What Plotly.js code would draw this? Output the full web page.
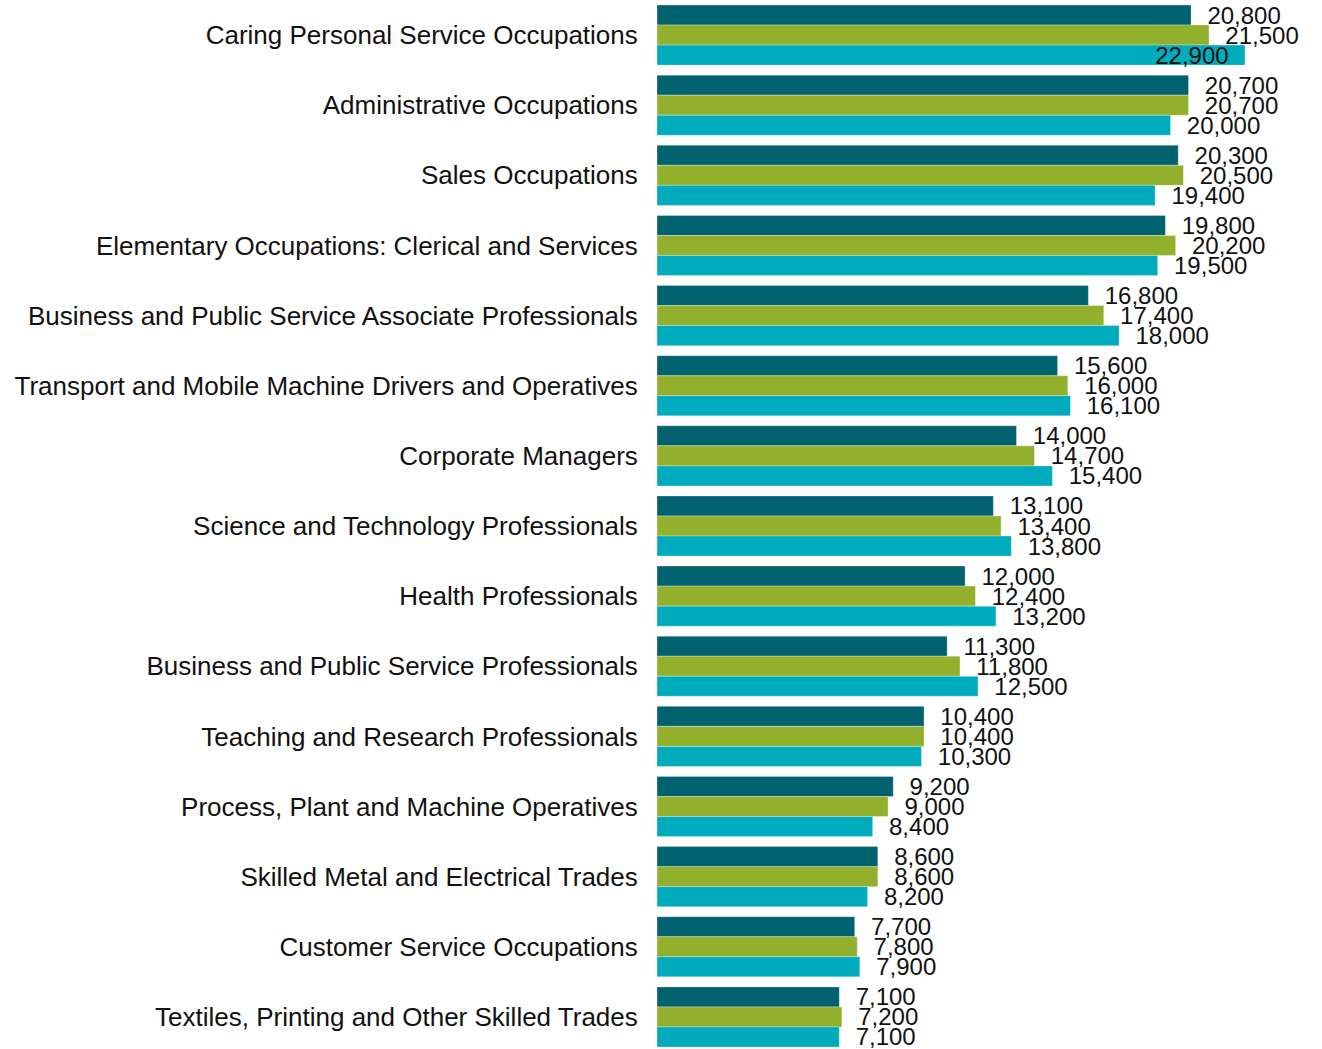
<!DOCTYPE html>
<html>
<head>
<meta charset="utf-8">
<script src="https://cdn.plot.ly/plotly-3.0.1.min.js"></script>
<style>html,body{margin:0;padding:0;background:#fff;overflow:hidden;}#chart{width:1322px;height:1052px;}</style>
</head>
<body>
<div id="chart"></div>
<script>
const categories = [
  "Caring Personal Service Occupations",
  "Administrative Occupations",
  "Sales Occupations",
  "Elementary Occupations: Clerical and Services",
  "Business and Public Service Associate Professionals",
  "Transport and Mobile Machine Drivers and Operatives",
  "Corporate Managers",
  "Science and Technology Professionals",
  "Health Professionals",
  "Business and Public Service Professionals",
  "Teaching and Research Professionals",
  "Process, Plant and Machine Operatives",
  "Skilled Metal and Electrical Trades",
  "Customer Service Occupations",
  "Textiles, Printing and Other Skilled Trades"
];
const series1 = [20800, 20700, 20300, 19800, 16800, 15600, 14000, 13100, 12000, 11300, 10400, 9200, 8600, 7700, 7100];
const series2 = [21500, 20700, 20500, 20200, 17400, 16000, 14700, 13400, 12400, 11800, 10400, 9000, 8600, 7800, 7200];
const series3 = [22900, 20000, 19400, 19500, 18000, 16100, 15400, 13800, 13200, 12500, 10300, 8400, 8200, 7900, 7100];
const seriesNames = ["Series 1", "Series 2", "Series 3"];
const colors = ["#00626f", "#93b02d", "#00abbd"];

const axisMax = 25900;
const fmt = v => v.toLocaleString("en-US");
const NB = "\u00a0\u00a0";
const FONT = "Liberation Sans, Arial, sans-serif";

function makeTrace(vals, i) {
  const pos = vals.map(v => v > 22500 ? "inside" : "outside");
  const txt = vals.map((v, k) => pos[k] === "inside" ? fmt(v) + NB : NB + fmt(v));
  const tf = {family: FONT, size: 24, color: "#111"};
  return {
    type: "bar",
    orientation: "h",
    name: seriesNames[i],
    y: categories,
    x: vals,
    text: txt,
    textposition: pos,
    insidetextanchor: "end",
    textfont: tf,
    insidetextfont: tf,
    outsidetextfont: tf,
    constraintext: "none",
    cliponaxis: false,
    marker: {color: colors[i], line: {color: "rgba(255,255,255,0.6)", width: 0.5}},
    hoverinfo: "y+x"
  };
}

const data = [makeTrace(series1, 0), makeTrace(series2, 1), makeTrace(series3, 2)];

const layout = {
  width: 1322,
  height: 1052,
  margin: {l: 657, r: 0, t: 0, b: 0},
  barmode: "group",
  bargap: 0.143,
  bargroupgap: 0,
  showlegend: false,
  paper_bgcolor: "#fff",
  plot_bgcolor: "#fff",
  font: {family: FONT, color: "#111"},
  xaxis: {range: [0, axisMax], visible: false, showgrid: false, zeroline: false},
  yaxis: {
    autorange: "reversed",
    showgrid: false,
    zeroline: false,
    showline: false,
    ticks: "outside",
    ticklen: 13,
    tickcolor: "rgba(0,0,0,0)",
    tickfont: {family: FONT, size: 26, color: "#111"}
  }
};

Plotly.newPlot("chart", data, layout, {displayModeBar: false, staticPlot: true});
</script>
</body>
</html>
